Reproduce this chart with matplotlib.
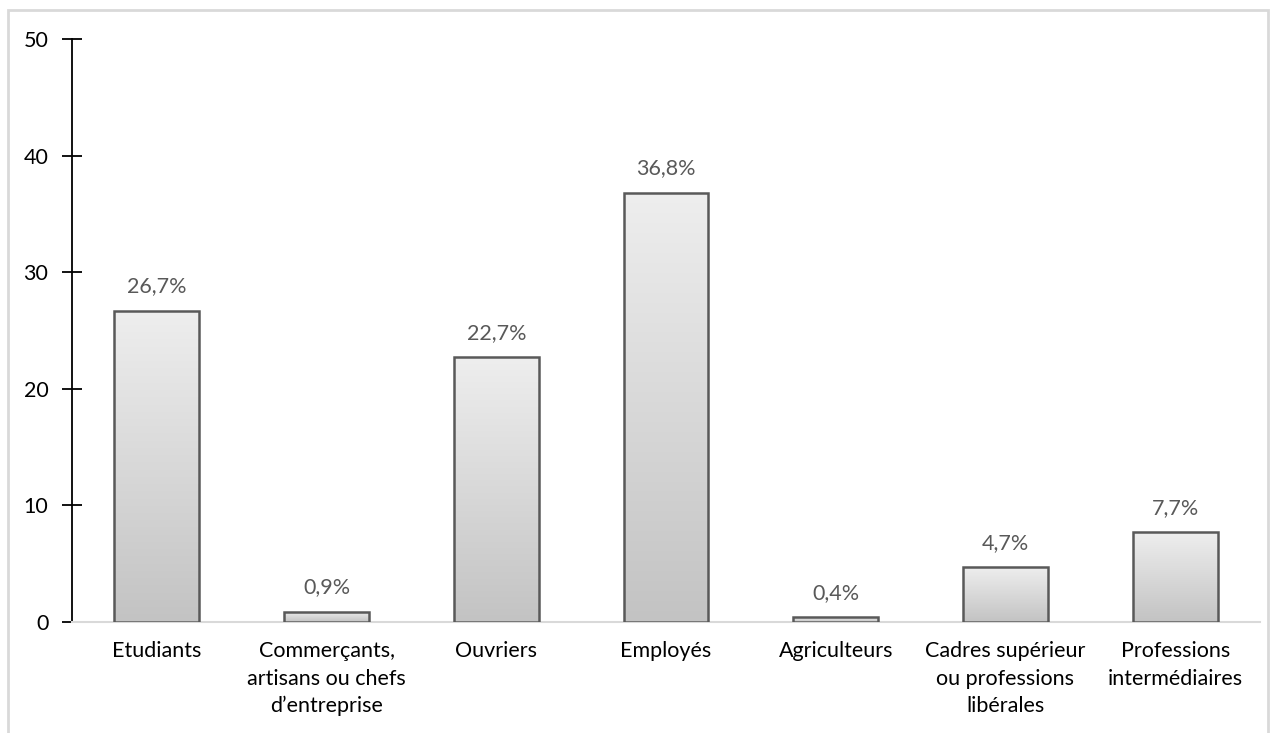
import matplotlib
matplotlib.use("Agg")
import matplotlib.pyplot as plt
import numpy as np
from matplotlib.patches import Rectangle

plt.rcParams["font.family"] = ["Lato", "DejaVu Sans"]

# ---------------- data ----------------
categories = ["Etudiants", "Commerçants,\nartisans ou chefs\nd’entreprise", "Ouvriers",
              "Employés", "Agriculteurs", "Cadres supérieur\nou professions\nlibérales",
              "Professions\nintermédiaires"]
values = [26.7, 0.9, 22.7, 36.8, 0.4, 4.7, 7.7]
labels = ["26,7%", "0,9%", "22,7%", "36,8%", "0,4%", "4,7%", "7,7%"]

fig = plt.figure(figsize=(12.76, 7.33), dpi=100)
# light outer frame
fig.patches.append(Rectangle((8 / 1276, -0.01), 1260 / 1276, 1 - 10 / 733 + 0.01,
                             transform=fig.transFigure, fill=False,
                             edgecolor="#d9d9d9", lw=2))
ax = fig.add_axes([72 / 1276, 1 - 622 / 733, 1188 / 1276, 583 / 733])

x = np.arange(len(categories))
bars = ax.bar(x, values, width=0.5, color="none", edgecolor="#595959", lw=1.8, zorder=3)
grad = np.linspace(0, 1, 256).reshape(-1, 1)
cmap = matplotlib.colors.LinearSegmentedColormap.from_list("g", ["#c3c3c3", "#eeeeee"])
for b in bars:
    x0, y0, w, h = b.get_x(), b.get_y(), b.get_width(), b.get_height()
    im = ax.imshow(grad, cmap=cmap, extent=[x0, x0 + w, y0, y0 + h], aspect="auto",
                   origin="lower", zorder=2)
    im.set_clip_path(b)

for xi, v, lab in zip(x, values, labels):
    ax.text(xi, v + 2.1, lab, ha="center", va="center", fontsize=15.5, color="#595959")

ax.set_xlim(-0.5, len(categories) - 0.5)
ax.set_ylim(0, 50)
ax.set_yticks([0, 10, 20, 30, 40, 50])
ax.set_xticks(x)
ax.set_xticklabels(categories, fontsize=15.5, linespacing=1.45)
ax.tick_params(axis="x", length=0, pad=14)
ax.tick_params(axis="y", direction="inout", length=14, width=1.3, labelsize=15.5, pad=10)
for s in ["top", "right"]:
    ax.spines[s].set_visible(False)
ax.spines["left"].set_linewidth(1.3)
ax.spines["bottom"].set_color("#d9d9d9")
ax.spines["bottom"].set_linewidth(1.5)

fig.savefig("out.png", dpi=100)
